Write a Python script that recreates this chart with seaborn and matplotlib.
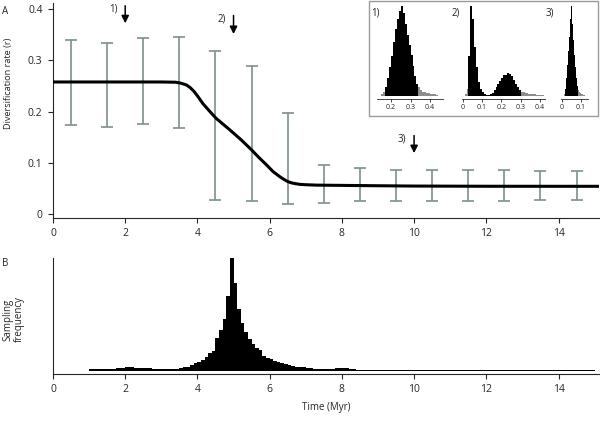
import numpy as np
import pandas as pd
import seaborn as sns
import matplotlib.pyplot as plt
from matplotlib.patches import Rectangle

# --- panel A: diversification rate through time ---
curve_time = [0.0, 1.0, 2.0, 3.0, 3.4, 3.55, 3.7, 3.8, 3.9, 4.0, 4.15, 4.35, 4.52, 4.9,
              5.2, 5.48, 5.7, 5.92, 6.1, 6.29, 6.4, 6.5, 6.6, 6.7, 6.84, 7.0, 7.3, 8.0,
              9.0, 10.0, 12.0, 14.0, 15.2]
curve_rate = [0.258, 0.258, 0.258, 0.258, 0.2575, 0.2555, 0.252, 0.247, 0.240, 0.231,
              0.216, 0.200, 0.187, 0.1645, 0.146, 0.127, 0.111, 0.096, 0.083, 0.073,
              0.068, 0.064, 0.0615, 0.060, 0.0585, 0.0578, 0.057, 0.0565, 0.0558,
              0.0552, 0.0548, 0.0547, 0.0547]

bar_time = [0.5, 1.5, 2.5, 3.5, 4.5, 5.5, 6.5, 7.5, 8.5, 9.5, 10.5, 11.5, 12.5, 13.5, 14.5]
bar_upper = [0.340, 0.334, 0.343, 0.345, 0.318, 0.289, 0.198, 0.096, 0.091, 0.087,
             0.087, 0.086, 0.086, 0.085, 0.085]
bar_lower = [0.174, 0.170, 0.176, 0.168, 0.029, 0.027, 0.021, 0.023, 0.026, 0.026,
             0.026, 0.027, 0.027, 0.028, 0.028]

arrow_time = [2, 5, 10]
arrow_top = [0.412, 0.393, 0.159]
arrow_tip = [0.367, 0.346, 0.114]
arrow_labels = ["1)", "2)", "3)"]

# --- inset: posterior rate distributions at the three arrows ---
h1_start, h1_width = 0.15, 0.01
h1_heights = [0.03, 0.05, 0.10, 0.20, 0.32, 0.45, 0.60, 0.74, 0.86, 0.94, 1.00, 0.92,
              0.80, 0.68, 0.57, 0.46, 0.34, 0.22, 0.14, 0.10, 0.07, 0.05, 0.045, 0.04,
              0.035, 0.03, 0.025, 0.02, 0.01]
h1_hpd = (0.17, 0.34)

h2_start, h2_width = 0.01, 0.01
h2_heights = [0.02, 0.08, 0.45, 1.00, 0.85, 0.55, 0.32, 0.16, 0.08, 0.05, 0.03, 0.015,
              0.015, 0.025, 0.04, 0.07, 0.10, 0.13, 0.17, 0.20, 0.23, 0.24, 0.26, 0.25,
              0.22, 0.18, 0.14, 0.10, 0.07, 0.05, 0.045, 0.04, 0.035, 0.03, 0.025, 0.02,
              0.02, 0.015, 0.015, 0.01, 0.01]
h2_hpd = (0.03, 0.30)

h3_start, h3_width = 0.01, 0.005
h3_heights = [0.01, 0.03, 0.08, 0.20, 0.35, 0.50, 0.66, 0.85, 1.00, 0.80, 0.62, 0.46,
              0.32, 0.20, 0.11, 0.07, 0.05, 0.035, 0.025, 0.02, 0.01, 0.01]
h3_hpd = (0.02, 0.085)

# --- panel B: sampling frequency of the shift time ---
left_tail = [0.015, 0.012, 0.015, 0.025, 0.028, 0.022, 0.02, 0.012, 0.015, 0.018]  # 1.0-3.5, 0.25 bins
core = [0.02, 0.03, 0.035, 0.05, 0.065, 0.075, 0.09, 0.12, 0.16, 0.17,
        0.29, 0.36, 0.46, 0.66, 1.00, 0.78, 0.55, 0.42, 0.34, 0.28,
        0.24, 0.20, 0.18, 0.13, 0.11, 0.10, 0.085, 0.075, 0.065, 0.06,
        0.045, 0.04, 0.035, 0.03, 0.028, 0.025, 0.02, 0.018, 0.017, 0.016,
        0.015, 0.015, 0.014, 0.02, 0.022, 0.025, 0.02, 0.015, 0.01, 0.008]  # 3.5-8.5, 0.1 bins
right_tail = [0.007, 0.006, 0.006, 0.005, 0.006, 0.005, 0.006, 0.006, 0.005, 0.006,
              0.005, 0.006, 0.005, 0.005, 0.006, 0.005, 0.005, 0.006, 0.005, 0.005,
              0.005, 0.006, 0.005, 0.005, 0.005, 0.005]  # 8.5-15.0, 0.25 bins


def weighted_hist(ax, centers, heights, edges, color):
    df = pd.DataFrame({"x": centers, "w": heights})
    sns.histplot(data=df, x="x", weights="w", bins=list(edges), element="step",
                 color=color, alpha=1, linewidth=0, ax=ax)


sns.set_style("ticks")
plt.rcParams["font.family"] = ["Open Sans", "DejaVu Sans"]
plt.rcParams["font.size"] = 7
plt.rcParams["axes.linewidth"] = 0.8

bar_color = "#7a918d"
fig = plt.figure(figsize=(6, 4.21), dpi=100)

# ---------- panel A ----------
ax = fig.add_axes([0.0883, 0.482, 0.91, 0.511])
mid = (np.array(bar_upper) + np.array(bar_lower)) / 2
err = (np.array(bar_upper) - np.array(bar_lower)) / 2
ax.errorbar(bar_time, mid, yerr=err, fmt="none", ecolor=bar_color, elinewidth=1.2,
            capsize=4.2, capthick=1.2, zorder=2)
sns.lineplot(x=curve_time, y=curve_rate, color="black", linewidth=2.2, ax=ax, zorder=3)
for t, top, tip, lab in zip(arrow_time, arrow_top, arrow_tip, arrow_labels):
    ax.annotate("", xy=(t, tip), xytext=(t, top),
                arrowprops=dict(arrowstyle="-|>", color="black", lw=1.1, mutation_scale=11),
                annotation_clip=False)
    ax.text(t - 0.33, top - 0.012, lab, ha="center", va="center", fontsize=7)
ax.set_xlim(0, 15.12)
ax.set_ylim(-0.0072, 0.412)
ax.set_yticks([0, 0.1, 0.2, 0.3, 0.4])
ax.set_yticklabels(["0", "0.1", "0.2", "0.3", "0.4"])
ax.set_xticks(range(0, 15, 2))
ax.set_ylabel("Diversification rate (r)", fontsize=6.6)
ax.yaxis.set_label_coords(-0.074, 0.628)
ax.tick_params(length=3.5, width=0.8, pad=4, labelsize=7.5)
sns.despine(ax=ax)
fig.text(5 / 600, 1 - 12 / 421, "A", fontsize=7, ha="center", va="center")

# ---------- inset ----------
fig.add_artist(Rectangle((0.615, 0.724), 0.382, 0.274, transform=fig.transFigure,
                         fill=False, ec="#9a9a9a", lw=1.0))

insets = [
    ("1)", h1_start, h1_width, h1_heights, h1_hpd, 0.628, 0.110, (0.127, 0.465),
     [0.2, 0.3, 0.4], ["0.2", "0.3", "0.4"], 0.625),
    ("2)", h2_start, h2_width, h2_heights, h2_hpd, 0.7695, 0.1385, (-0.005, 0.425),
     [0, 0.1, 0.2, 0.3, 0.4], ["0", "0.1", "0.2", "0.3", "0.4"], 0.759),
    ("3)", h3_start, h3_width, h3_heights, h3_hpd, 0.935, 0.0455, (-0.003, 0.138),
     [0, 0.1], ["0", "0.1"], 0.917),
]
for lab, start, width, heights, hpd, left, w, xlim, ticks, ticklabels, lab_x in insets:
    iax = fig.add_axes([left, 0.765, w, 0.221])
    iax.patch.set_alpha(0)
    heights = np.array(heights)
    edges = start + width * np.arange(len(heights) + 1)
    centers = edges[:-1] + width / 2
    inside = (centers > hpd[0]) & (centers < hpd[1])
    weighted_hist(iax, centers, np.where(inside, 0, heights), edges, "#8c8c8c")
    weighted_hist(iax, centers, np.where(inside, heights, 0), edges, "black")
    iax.set_xlim(*xlim)
    iax.set_ylim(-0.03, 1.0)
    iax.set_xticks(ticks)
    iax.set_xticklabels(ticklabels)
    iax.set_yticks([])
    iax.set_xlabel("")
    iax.set_ylabel("")
    iax.tick_params(axis="x", length=2, width=0.6, pad=1.5, labelsize=5)
    sns.despine(ax=iax, left=True)
    iax.spines["bottom"].set_linewidth(0.6)
    fig.text(lab_x, 1 - 13 / 421, lab, fontsize=7, ha="center", va="center")

# ---------- panel B ----------
bx = fig.add_axes([0.0883, 0.1116, 0.91, 0.2754])
heights_b = np.array(left_tail + core + right_tail)
edges_b = np.concatenate([1.0 + 0.25 * np.arange(len(left_tail)),
                          3.5 + 0.1 * np.arange(len(core)),
                          8.5 + 0.25 * np.arange(len(right_tail) + 1)])
centers_b = (edges_b[:-1] + edges_b[1:]) / 2
weighted_hist(bx, centers_b, heights_b, edges_b, "black")
bx.set_xlim(0, 15.12)
bx.set_ylim(-0.031, 1.0)
bx.set_yticks([])
bx.set_xticks(range(0, 15, 2))
bx.set_ylabel("Sampling\nfrequency", linespacing=1.1)
bx.yaxis.set_label_coords(-0.051, 0.47)
bx.set_xlabel("Time (Myr)", labelpad=5)
bx.tick_params(length=3.5, width=0.8, pad=4, labelsize=7.5)
sns.despine(ax=bx)
fig.text(5 / 600, 1 - 263 / 421, "B", fontsize=7, ha="center", va="center")

fig.savefig("out.png", dpi=100)
